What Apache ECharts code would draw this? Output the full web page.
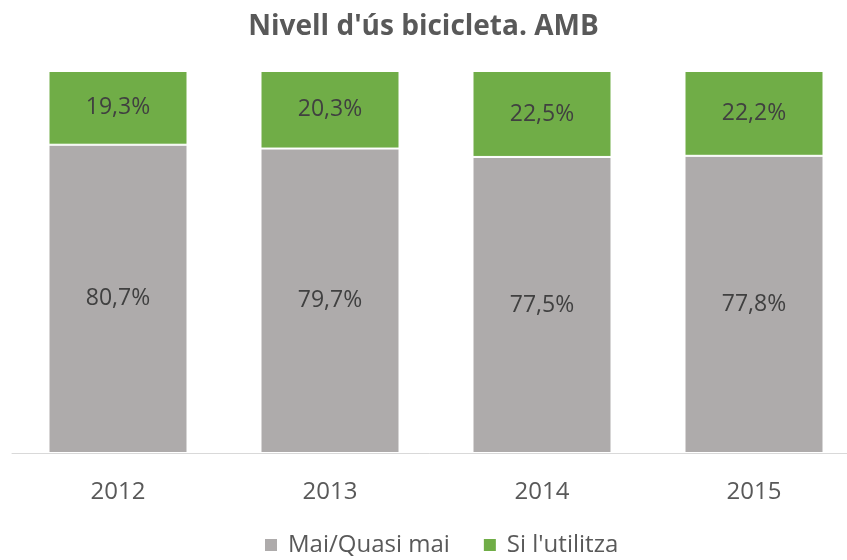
<!DOCTYPE html>
<html>
<head>
<meta charset="utf-8">
<script src="https://cdn.jsdelivr.net/npm/echarts@6/dist/echarts.min.js"></script>
<style>
  html, body { margin: 0; padding: 0; background: #fff; }
  #chart { width: 847px; height: 560px; }
</style>
</head>
<body>
<div id="chart"></div>
<script>
var years = ["2012", "2013", "2014", "2015"];
var maiQuasiMai = [80.7, 79.7, 77.5, 77.8];
var siUtilitza = [19.3, 20.3, 22.5, 22.2];

var chart = echarts.init(document.getElementById("chart"));

function pct(p) {
  return p.value.toFixed(1).replace(".", ",") + "%";
}

var option = {
  backgroundColor: "#fff",
  textStyle: { fontFamily: "Open Sans" },
  title: {
    text: "Nivell d'ús bicicleta. AMB",
    left: "center",
    top: 8,
    textStyle: {
      color: "#595959",
      fontSize: 28,
      fontWeight: "bold",
      fontFamily: "Open Sans"
    }
  },
  legend: {
    top: 528,
    left: 258,
    itemWidth: 14,
    itemHeight: 14,
    itemGap: 32,
    icon: "rect",
    textStyle: {
      color: "#595959",
      fontSize: 24,
      fontFamily: "Open Sans",
      padding: [0, 0, 0, 5]
    },
    data: ["Mai/Quasi mai", "Si l'utilitza"]
  },
  grid: {
    left: 12,
    width: 848,
    top: 71,
    bottom: 107,
    containLabel: false,
    outerBoundsMode: "none"
  },
  xAxis: {
    type: "category",
    data: years,
    axisLine: { lineStyle: { color: "#D9D9D9", width: 1 } },
    axisTick: { show: false },
    axisLabel: {
      color: "#595959",
      fontSize: 24,
      margin: 27
    }
  },
  yAxis: {
    type: "value",
    min: 0,
    max: 100,
    show: false,
    splitLine: { show: false }
  },
  series: [
    {
      name: "Mai/Quasi mai",
      type: "bar",
      stack: "total",
      barWidth: 139,
      data: maiQuasiMai,
      itemStyle: { color: "#AEABAB", borderColor: "#fff", borderWidth: 1 },
      label: {
        show: true,
        position: "inside",
        color: "#404040",
        fontSize: 23,
        formatter: pct
      }
    },
    {
      name: "Si l'utilitza",
      type: "bar",
      stack: "total",
      barWidth: 139,
      data: siUtilitza,
      itemStyle: { color: "#70AD47", borderColor: "#fff", borderWidth: 1 },
      label: {
        show: true,
        position: "inside",
        color: "#404040",
        fontSize: 23,
        formatter: pct
      }
    }
  ]
};

chart.setOption(option, true);
</script>
</body>
</html>
